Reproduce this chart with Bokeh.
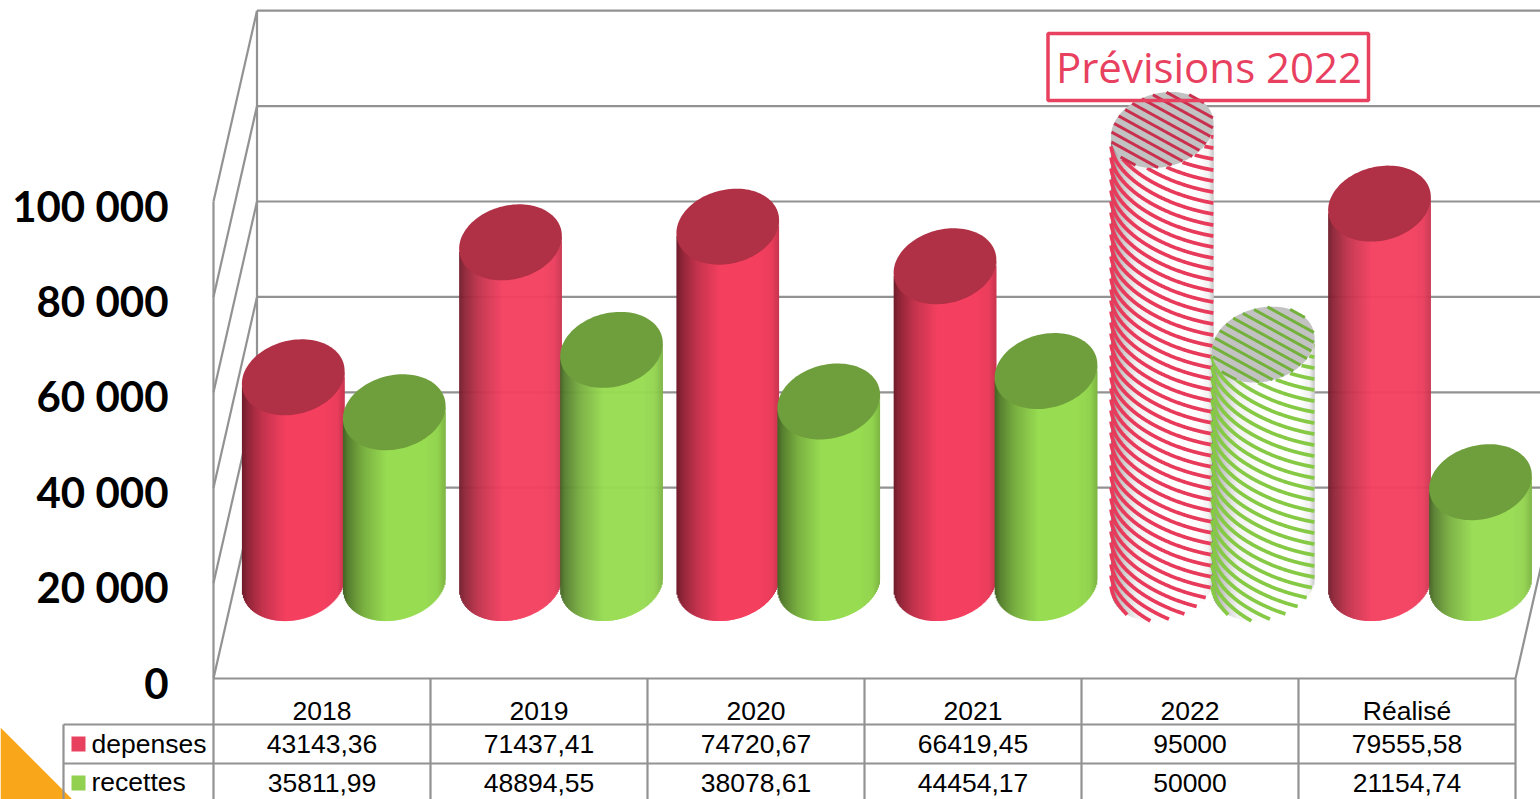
import numpy as np
from bokeh.plotting import figure
from bokeh.embed import file_html
from bokeh.resources import INLINE
from bokeh.core.properties import value
from bokeh.models import Range1d, FixedTicker, LinearAxis

# ---- data -------------------------------------------------------------
categories = ["2018", "2019", "2020", "2021", "2022", "Réalisé"]
depenses = [43143.36, 71437.41, 74720.67, 66419.45, 95000, 79555.58]
recettes = [35811.99, 48894.55, 38078.61, 44454.17, 50000, 21154.74]
depenses_txt = ["43143,36", "71437,41", "74720,67", "66419,45", "95000", "79555,58"]
recettes_txt = ["35811,99", "48894,55", "38078,61", "44454,17", "50000", "21154,74"]
y_ticks = [0, 20000, 40000, 60000, 80000, 100000]
y_tick_labels = ["0", "20 000", "40 000", "60 000", "80 000", "100 000"]
hatched_category = "2022"
annotation_text = "Prévisions 2022"

# ---- layout constants ---------------------------------------------------
W, H = 1540, 799
PX_CAT = 217.0            # pixels per category
PX_VAL = 477.0 / 100000   # pixels per value unit
X0, Y0 = 213.0, 678.0     # pixel position of the data origin

def xd(px):
    return (px - X0) / PX_CAT

def yd(py):
    return (Y0 - py) / PX_VAL

GRID = "#929292"
RED, RED_TOP = (244, 64, 96), "#B03045"
GREEN, GREEN_TOP = (152, 220, 82), "#6F9E3C"
RED_STRIPE, GREEN_STRIPE = "#E83A5A", "#86C945"
RED_STRIPE_T, GREEN_STRIPE_T = "#C9304E", "#74B13C"

p = figure(width=W, height=H, output_backend="svg", toolbar_location=None,
           x_range=Range1d(xd(0), xd(W)), y_range=Range1d(yd(H), yd(0)),
           min_border_left=0, min_border_right=0, min_border_top=0,
           min_border_bottom=0, x_axis_type=None, y_axis_type=None,
           background_fill_color="white", border_fill_color="white")
p.outline_line_color = None
p.grid.visible = False
p.styles = {"position": "absolute", "left": "0px", "top": "0px"}

# tick labels sit a little below the front-wall tick height
LABEL_DROP = 4 / PX_VAL
p.extra_y_ranges = {"labels": Range1d(yd(H) + LABEL_DROP, yd(0) + LABEL_DROP)}
yaxis = LinearAxis(y_range_name="labels", ticker=FixedTicker(ticks=y_ticks),
                   major_label_overrides=dict(zip(y_ticks, y_tick_labels)),
                   axis_line_color=None, major_tick_line_color=None,
                   minor_tick_line_color=None, major_label_standoff=-174,
                   major_label_text_font="Lato", major_label_text_font_style="bold",
                   major_label_text_font_size="42px", major_label_text_color="black")
p.add_layout(yaxis, "left")

centers = [i + 0.5 for i in range(len(categories))]
xaxis = LinearAxis(ticker=FixedTicker(ticks=centers),
                   major_label_overrides=dict(zip(centers, categories)),
                   axis_line_color=None, major_tick_line_color=None,
                   minor_tick_line_color=None, major_label_standoff=-110,
                   major_label_text_font="Liberation Sans",
                   major_label_text_font_size="26.5px", major_label_text_color="black")
p.add_layout(xaxis, "below")

# ---- orange corner ------------------------------------------------------
p.patch([xd(0), xd(0), xd(72)], [yd(727), yd(799), yd(799)], fill_color="#FAA61A", line_color=None)

# ---- walls --------------------------------------------------------------
DEPTH_X, DEPTH_Y = 43.5 / PX_CAT, 40000.0
n = len(categories)
sx0, sy0, sx1, sy1 = [], [], [], []
for v in y_ticks:
    sx0 += [DEPTH_X, 0]
    sy0 += [v + DEPTH_Y, v]
    sx1 += [xd(W + 30), DEPTH_X]
    sy1 += [v + DEPTH_Y, v + DEPTH_Y]
sx0 += [0, DEPTH_X, 0, n]
sy0 += [0, DEPTH_Y, 0, 0]
sx1 += [0, DEPTH_X, n, n + DEPTH_X]
sy1 += [y_ticks[-1], y_ticks[-1] + DEPTH_Y, 0, DEPTH_Y]
# table grid
for i in range(n + 1):
    sx0.append(i); sy0.append(0); sx1.append(i); sy1.append(yd(H + 5))
sx0.append(xd(63)); sy0.append(yd(724)); sx1.append(xd(63)); sy1.append(yd(H + 5))
for py in (724, 763):
    sx0.append(xd(63)); sy0.append(yd(py)); sx1.append(n); sy1.append(yd(py))
p.segment(sx0, sy0, sx1, sy1, line_color=GRID, line_width=2.2)

# ---- cylinders ----------------------------------------------------------
A, SX, SY = 50.6, 8.75, 38.0    # ellipse shape, pixels
t0 = np.pi + np.arctan2(SX, A)
t = np.linspace(t0, t0 + np.pi, 200)
low_x = A * np.cos(t) + SX * np.sin(t)
low_y = SY * np.sin(t)
HALF = float(low_x.max())
t_all = np.linspace(0, 2 * np.pi, 120)
ell_x = A * np.cos(t_all) + SX * np.sin(t_all)
ell_y = SY * np.sin(t_all)
U = [-1, -.9, -.6, -.15, .6, .85, 1]
F = [.45, .58, .8, 1, 1, .96, .82]
U_H = [-1, -.85, -.5, 0, .7, .9, 1]
F_H = [.5, .75, .95, 1, 1, .95, .78]

def rgbhex(c):
    return "#%02x%02x%02x" % tuple(int(round(min(255, v))) for v in c)

def low(xo):
    return np.interp(xo, low_x, low_y)

def inside(x, y):
    s = y / SY
    c = (x - SX * s) / A
    return s * s + c * c <= 1

def cylinder(cx, v, rgb, top, hatched, stripe, stripe_top):
    base = DEPTH_Y / 2
    strips = np.arange(-HALF, HALF, 1.0)
    l, r, b, tp, col = [], [], [], [], []
    for xo in strips:
        mid = xo + .5
        f = np.interp(mid / HALF, U_H if hatched else U, F_H if hatched else F)
        c = (255, 255, 255) if hatched else rgb
        col.append(rgbhex([k * f for k in c]))
        l.append(cx + xo / PX_CAT)
        r.append(cx + min(xo + 1.6, HALF) / PX_CAT)
        ly = low(mid) / PX_VAL
        b.append(base + ly)
        tp.append(base + v + ly + 2 / PX_VAL)
    p.quad(left=l, right=r, bottom=b, top=tp, fill_color=col, line_color=None)
    if hatched:
        xo = np.linspace(-HALF + .2, HALF - .2, 160)
        s = (xo + HALF) / (2 * HALF)
        drop = 71 * (.75 * np.sqrt(1 - (1 - s) ** 2) + .25 * s)
        lo, hi = low(xo), v * PX_VAL + low(xo)
        xs, ys = [], []
        for k in np.arange(-10, (v * PX_VAL + 71) / 11 + 12):
            y = k * 11.0 - drop
            m = (y >= lo) & (y <= hi)
            if m.sum() > 1:
                xs.append((cx + xo[m] / PX_CAT).tolist())
                ys.append((base + y[m] / PX_VAL).tolist())
        p.multi_line(xs, ys, line_color=stripe, line_width=3.8)
    p.patch(cx + ell_x / PX_CAT, base + v + ell_y / PX_VAL, fill_color="#c2c2c2" if hatched else top,
            line_color=None)
    if hatched:
        gx = np.linspace(-HALF, HALF, 160)
        xs, ys = [], []
        for k in np.arange(-8, 9):
            y = k * 10.0 - 0.55 * gx
            m = inside(gx, y)
            if m.sum() > 1:
                xs.append((cx + gx[m] / PX_CAT).tolist())
                ys.append((base + v + y[m] / PX_VAL).tolist())
        p.multi_line(xs, ys, line_color=stripe_top, line_width=3.0)

offs = 50.5 / PX_CAT
for i, cat in enumerate(categories):
    cx = i * (1 + .25 / PX_CAT) + .5 + DEPTH_X / 2
    hatched = cat == hatched_category
    cylinder(cx - offs, depenses[i], RED, RED_TOP, hatched, RED_STRIPE, RED_STRIPE_T)
    cylinder(cx + offs, recettes[i], GREEN, GREEN_TOP, hatched, GREEN_STRIPE, GREEN_STRIPE_T)

# ---- table contents -----------------------------------------------------
def cells(xs, py, texts, align="center"):
    p.text(xs, [yd(py)] * len(xs), text=texts, text_font=value("Liberation Sans"), text_font_size="26.5px",
           text_color="black", text_align=align, text_baseline="middle")

cells(centers, 743, depenses_txt)
cells(centers, 782, recettes_txt)
p.quad(left=[xd(71)], right=[xd(85)], top=[yd(736)], bottom=[yd(751)], fill_color="#E8405F", line_color=None)
p.quad(left=[xd(71)], right=[xd(85)], top=[yd(775)], bottom=[yd(790)], fill_color="#92D050", line_color=None)
cells([xd(91)], 743, ["depenses"], "left")
cells([xd(91)], 781, ["recettes"], "left")

# ---- annotation ---------------------------------------------------------
p.quad(left=[xd(1047.5)], right=[xd(1368)], top=[yd(33)], bottom=[yd(100)], fill_alpha=0,
       line_color="#E8405F", line_width=3.5)
p.text([xd(1208.5)], [yd(65.5)], text=[annotation_text], text_font=value("Open Sans"), text_font_size="42px",
       text_color="#E8405F", text_align="center", text_baseline="middle")

open("out.html", "w").write(file_html(p, INLINE))
